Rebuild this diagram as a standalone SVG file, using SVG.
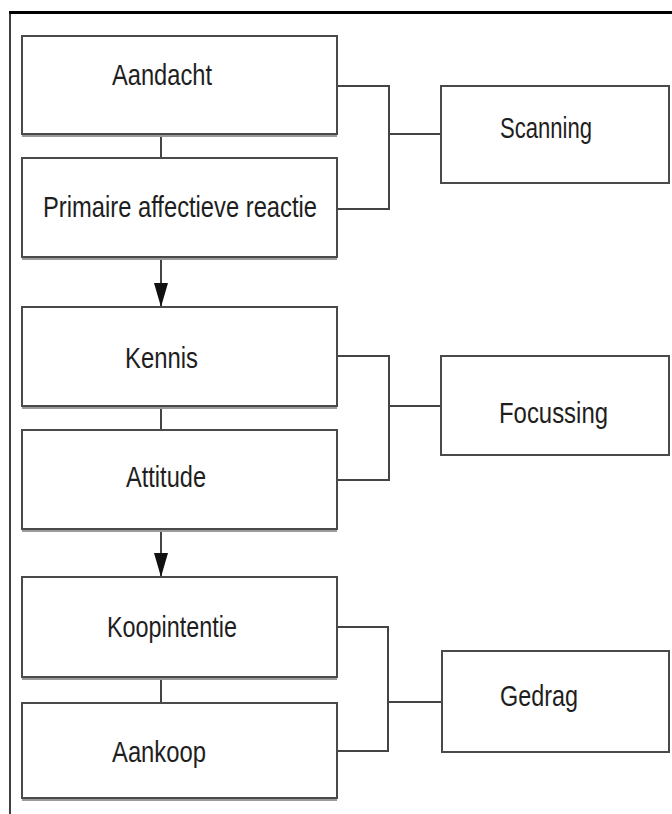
<svg xmlns="http://www.w3.org/2000/svg" width="672" height="814" viewBox="0 0 672 814">
<style>
.box{fill:#fff;stroke:#4a4a4a;stroke-width:2}
.sh{stroke:#9a9a9a;stroke-width:2;fill:none}
.lbl{font-family:"Liberation Sans",Arial,sans-serif;font-size:30px;fill:#1e1e1e}
.con{fill:none;stroke:#444;stroke-width:2}
</style>
<defs>
<marker id="arr" viewBox="0 0 24 14" refX="24" refY="7" markerUnits="userSpaceOnUse" markerWidth="24" markerHeight="14" orient="auto">
<path d="M0,0 L24,7 L0,14 Z" fill="#111"/>
</marker>
</defs>
<rect width="672" height="814" fill="#fff"/>
<g id="frame">
<line x1="9" y1="12.5" x2="672" y2="12.5" stroke="#000" stroke-width="3"/>
<line x1="10" y1="12" x2="10" y2="814" stroke="#000" stroke-width="1.5"/>
</g>
<g id="connectors">
<line class="con" x1="161" y1="134" x2="161" y2="158"/>
<polyline class="con" points="337,86 389,86 389,209 337,209"/>
<line class="con" x1="389" y1="134" x2="441" y2="134"/>
<line class="con" x1="161" y1="257" x2="161" y2="307" marker-end="url(#arr)"/>
<line class="con" x1="161" y1="406" x2="161" y2="430"/>
<polyline class="con" points="337,356 389,356 389,480 337,480"/>
<line class="con" x1="389" y1="406" x2="441" y2="406"/>
<line class="con" x1="161" y1="529" x2="161" y2="577" marker-end="url(#arr)"/>
<line class="con" x1="161" y1="677" x2="161" y2="703"/>
<polyline class="con" points="337,627 388,627 388,751 337,751"/>
<line class="con" x1="388" y1="702" x2="442" y2="702"/>
</g>
<g id="aandacht">
<rect class="box" x="22" y="36" width="315" height="98"/>
<line class="sh" x1="22" y1="136" x2="337" y2="136"/>
<text class="lbl" x="112" y="85" textLength="100" lengthAdjust="spacingAndGlyphs">Aandacht</text>
</g>
<g id="primaire">
<rect class="box" x="22" y="158" width="315" height="99"/>
<line class="sh" x1="22" y1="259" x2="337" y2="259"/>
<text class="lbl" x="43" y="217" textLength="274" lengthAdjust="spacingAndGlyphs">Primaire affectieve reactie</text>
</g>
<g id="scanning">
<rect class="box" x="441" y="86" width="228" height="97"/>
<text class="lbl" x="500" y="138" textLength="92" lengthAdjust="spacingAndGlyphs">Scanning</text>
</g>
<g id="kennis">
<rect class="box" x="22" y="307" width="315" height="99"/>
<line class="sh" x1="22" y1="408" x2="337" y2="408"/>
<text class="lbl" x="125" y="368" textLength="73" lengthAdjust="spacingAndGlyphs">Kennis</text>
</g>
<g id="attitude">
<rect class="box" x="22" y="430" width="315" height="99"/>
<line class="sh" x1="22" y1="531" x2="337" y2="531"/>
<text class="lbl" x="126" y="487" textLength="80" lengthAdjust="spacingAndGlyphs">Attitude</text>
</g>
<g id="focussing">
<rect class="box" x="441" y="356" width="228" height="99"/>
<text class="lbl" x="499" y="423" textLength="109" lengthAdjust="spacingAndGlyphs">Focussing</text>
</g>
<g id="koopintentie">
<rect class="box" x="22" y="577" width="315" height="100"/>
<line class="sh" x1="22" y1="679" x2="337" y2="679"/>
<text class="lbl" x="107" y="637" textLength="130" lengthAdjust="spacingAndGlyphs">Koopintentie</text>
</g>
<g id="aankoop">
<rect class="box" x="22" y="703" width="315" height="95"/>
<line class="sh" x1="22" y1="800" x2="337" y2="800"/>
<text class="lbl" x="112" y="762" textLength="94" lengthAdjust="spacingAndGlyphs">Aankoop</text>
</g>
<g id="gedrag">
<rect class="box" x="442" y="651" width="227" height="101"/>
<text class="lbl" x="500" y="706" textLength="78" lengthAdjust="spacingAndGlyphs">Gedrag</text>
</g>
</svg>
